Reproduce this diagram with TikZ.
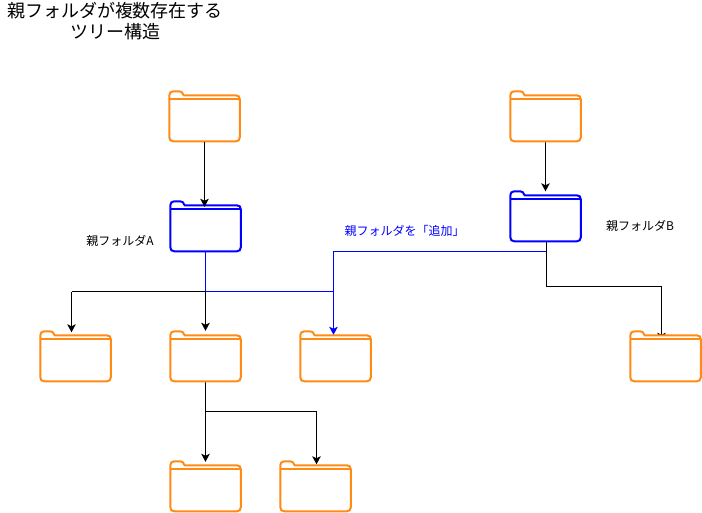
\documentclass[tikz,border=0pt]{standalone}
\usepackage{fontspec}
\setmainfont{Noto Sans CJK JP}
\usetikzlibrary{arrows.meta,calc}
\definecolor{fo}{HTML}{FF8A14}
\definecolor{fb}{HTML}{0000FF}
\tikzset{
  x=1pt,y=-1pt,
  slot/.style={rectangle,minimum width=71pt,minimum height=50pt,inner sep=0pt},
  tipmark/.tip={Stealth[length=8pt,width=8.5pt,inset=2pt,line width=1pt]},
  conn/.style={draw=black,line width=1pt,-tipmark},
  seg/.style={line width=1pt},
  folderline/.style={line width=2pt,fill=white},
  lbl/.style={font=\fontsize{12pt}{14pt}\selectfont,inner sep=0pt,align=center},
  ttl/.style={font=\fontsize{18pt}{21pt}\selectfont,inner sep=0pt,align=center}
}
\newcommand{\folderdraw}[2]{%
  \begin{scope}[shift={(#1.north west)},xshift=0.5pt]
    \draw[folderline,draw=#2] (0,46) -- (0,4) .. controls (0,1.5) and (1.5,0) .. (4,0) -- (10,0)
      .. controls (12.5,0) and (13,1.5) .. (14,3.5) -- (14.5,4) -- (66.5,4)
      .. controls (69,4) and (70.5,5.5) .. (70.5,8) -- (70.5,46)
      .. controls (70.5,48.5) and (69,50) .. (66.5,50) -- (4,50)
      .. controls (1.5,50) and (0,48.5) .. (0,46) -- cycle;
    \draw[line width=2pt,draw=#2] (0,8)--(70.5,8);
  \end{scope}}
\begin{document}
\begin{tikzpicture}
\useasboundingbox (0,0) rectangle (702,512);
\fill[white] (0,0) rectangle (702,512);
\node[slot] (top1) at (204.5,116.5) {};
\node[slot] (top2) at (545.5,116.5) {};
\node[slot] (fa) at (205.5,226.5) {};
\node[slot] (fb) at (545.5,216.5) {};
\node[slot] (r1) at (75.5,356.5) {};
\node[slot] (r2) at (205.5,356.5) {};
\node[slot] (r3) at (335.5,356.5) {};
\node[slot] (r4) at (665.5,356.5) {};
\node[slot] (b1) at (205.5,486.5) {};
\node[slot] (b2) at (315.5,486.5) {};
\node[ttl] (title) at (115,21.5) {親フォルダが複数存在する\\ツリー構造};
\node[lbl] (la) at (120,241) {親フォルダA};
\node[lbl] (lb) at (640,226) {親フォルダB};
\node[lbl,text=fb] (lc) at (401.5,231) {\hspace*{6pt}親フォルダを「追加」};
\coordinate (ja) at (205.5,291.5);
\coordinate (jl) at (71.5,291.5);
\coordinate (jr) at (333.5,291.5);
\coordinate (jt) at (333.5,251.5);
\coordinate (jb) at (546.5,251.5);
\coordinate (jc) at (546.5,286.5);
\coordinate (jd) at (661.5,286.5);
\coordinate (je) at (205.5,411.5);
\coordinate (jf) at (316.5,411.5);
% connectors
\draw[conn] (ja) -- ($(r2.north)+(0,-0.5)$);
\draw[seg] (ja) -- (jl);
\draw[conn] (jl) -- ($(r1.north)+(-4,1)$);
\draw[seg] (fb.south -| jb) -- (jc) -- (jd);
\draw[conn] (jd) -- ($(r4.north)+(-4,9.5)$);
\draw[conn] (top2.south) -- ($(fb.north)+(0,0)$);
\draw[conn] (r2.south) -- (je) -- ($(b1.north)+(0,0.5)$);
\draw[seg] (je) -- (jf);
\draw[conn] (jf) -- ($(b2.north)+(1,3)$);
\draw[seg,draw=fb] (jb) -- (jt) -- (jr);
\draw[seg,draw=fb] (fa.south) -- (ja) -- (jr);
\draw[seg,draw=fb,-tipmark] (jr) -- ($(r3.north)+(-2,3.5)$);
\draw[seg] (fb.south -| jb) -- (jb);
% folders
\folderdraw{top1}{fo}
\folderdraw{top2}{fo}
\folderdraw{fa}{fb}
\folderdraw{fb}{fb}
\folderdraw{r1}{fo}
\folderdraw{r2}{fo}
\folderdraw{r3}{fo}
\folderdraw{r4}{fo}
\folderdraw{b1}{fo}
\folderdraw{b2}{fo}
\draw[conn] (top1.south) -- ($(fa.north)+(-1,5.5)$);
\end{tikzpicture}
\end{document}
